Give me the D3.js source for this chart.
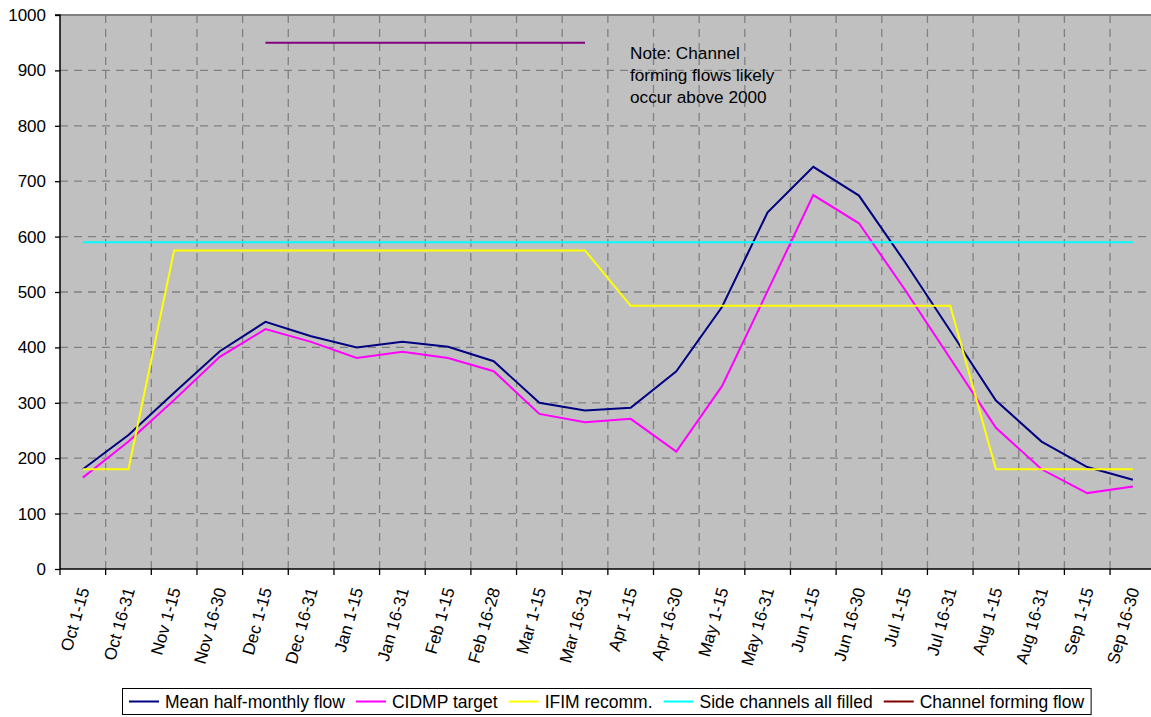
<!DOCTYPE html>
<html>
<head>
<meta charset="utf-8">
<script src="https://cdn.jsdelivr.net/npm/d3@7"></script>
<style>
  html, body { margin: 0; padding: 0; background: #ffffff; }
  svg { display: block; font-family: "Liberation Sans", Arial, sans-serif; }
</style>
</head>
<body>
<svg id="chart" width="1151" height="717"></svg>
<script>
const categories = ["Oct 1-15","Oct 16-31","Nov 1-15","Nov 16-30","Dec 1-15","Dec 16-31","Jan 1-15","Jan 16-31","Feb 1-15","Feb 16-28","Mar 1-15","Mar 16-31","Apr 1-15","Apr 16-30","May 1-15","May 16-31","Jun 1-15","Jun 16-30","Jul 1-15","Jul 16-31","Aug 1-15","Aug 16-31","Sep 1-15","Sep 16-30"];
const meanFlow = [180,242,318,393,446,420,400,410,401,375,300,286,291,357,473,644,726,674,555,430,304,230,184,161];
const cidmpTarget = [165,230,305,383,433,410,381,392,381,357,280,265,271,212,330,502,675,624,505,380,255,180,137,149];
const ifimRecomm = [180,180,575,575,575,575,575,575,575,575,575,575,475,475,475,475,475,475,475,475,180,180,180,180];
const sideChannels = [590,590,590,590,590,590,590,590,590,590,590,590,590,590,590,590,590,590,590,590,590,590,590,590];
const channelForming = [null,null,null,null,950,950,950,950,950,950,950,950,null,null,null,null,null,null,null,null,null,null,null,null];
const yTicks = [0,100,200,300,400,500,600,700,800,900,1000];
const noteLines = ["Note: Channel","forming flows likely","occur above 2000"];

const seriesList = [
  {name: "Mean half-monthly flow", values: meanFlow, color: "#000080", legendColor: "#000080"},
  {name: "CIDMP target", values: cidmpTarget, color: "#FF00FF", legendColor: "#FF00FF"},
  {name: "IFIM recomm.", values: ifimRecomm, color: "#FFFF00", legendColor: "#FFFF00"},
  {name: "Side channels all filled", values: sideChannels, color: "#00FFFF", legendColor: "#00FFFF"},
  {name: "Channel forming flow", values: channelForming, color: "#800080", legendColor: "#800000"}
];

const svg = d3.select("#chart");
const pL = 60, pR = 1155.7, pT = 15, pB = 569;

const x = d3.scaleBand().domain(categories).range([pL, pR]).paddingInner(0).paddingOuter(0);
const y = d3.scaleLinear().domain([0, 1000]).range([pB, pT]);
const cx = c => x(c) + x.bandwidth() / 2;

// plot background
svg.append("rect").attr("x", pL).attr("y", pT).attr("width", pR - pL).attr("height", pB - pT)
  .attr("fill", "#C0C0C0");

// horizontal gridlines
svg.append("g").selectAll("line").data(yTicks.filter(t => t > 0 && t < 1000)).join("line")
  .attr("x1", pL).attr("x2", pR).attr("y1", d => y(d)).attr("y2", d => y(d))
  .attr("stroke", "#808080").attr("stroke-width", 1.3).attr("stroke-dasharray", "8,6");

// vertical gridlines at category boundaries
svg.append("g").selectAll("line").data(categories.slice(1)).join("line")
  .attr("x1", d => x(d)).attr("x2", d => x(d)).attr("y1", pT).attr("y2", pB)
  .attr("stroke", "#808080").attr("stroke-width", 1.3).attr("stroke-dasharray", "8,6");

// top border
svg.append("line").attr("x1", pL).attr("x2", pR).attr("y1", pT).attr("y2", pT)
  .attr("stroke", "#808080").attr("stroke-width", 2);

// series lines
const lineGen = d3.line().defined(d => d.v != null).x(d => cx(d.c)).y(d => y(d.v));
seriesList.forEach(s => {
  svg.append("path")
    .datum(categories.map((c, i) => ({c: c, v: s.values[i]})))
    .attr("fill", "none").attr("stroke", s.color).attr("stroke-width", 2)
    .attr("stroke-linejoin", "miter")
    .attr("d", lineGen);
});

// y axis
const yAxis = d3.axisLeft(y).tickValues(yTicks).tickSize(5).tickPadding(9).tickFormat(d3.format("d"));
const gy = svg.append("g").attr("transform", `translate(${pL},0)`).call(yAxis);
gy.select(".domain").attr("stroke", "#000").attr("stroke-width", 1.5).attr("d", `M-5,${pT}H0V${pB}`);
gy.selectAll(".tick line").attr("stroke", "#000").attr("stroke-width", 1.3);
gy.selectAll(".tick text").attr("font-size", 17).attr("fill", "#000").attr("font-family", "Liberation Sans, Arial, sans-serif");

// x axis (ticks at category boundaries)
const boundaries = categories.map(c => x(c));
const gx = svg.append("g");
gx.append("line").attr("x1", pL).attr("x2", pR).attr("y1", pB).attr("y2", pB)
  .attr("stroke", "#000").attr("stroke-width", 1.5);
gx.selectAll("line.tk").data(boundaries).join("line").attr("class", "tk")
  .attr("x1", d => d).attr("x2", d => d).attr("y1", pB).attr("y2", pB + 6)
  .attr("stroke", "#000").attr("stroke-width", 1.3);
gx.selectAll("text").data(categories).join("text")
  .attr("transform", d => `translate(${cx(d) + 1},${pB + 19}) rotate(-74)`)
  .attr("text-anchor", "end").attr("dy", "0.35em")
  .attr("font-size", 17).attr("fill", "#000")
  .text(d => d);

// note
svg.append("g").selectAll("text").data(noteLines).join("text")
  .attr("x", 630).attr("y", (d, i) => 58.5 + i * 22)
  .attr("font-size", 17.2).attr("fill", "#000").text(d => d);

// legend
const lg = svg.append("g");
const lgBox = lg.append("rect").attr("y", 688.5).attr("height", 26).attr("fill", "#fff")
  .attr("stroke", "#000").attr("stroke-width", 1);
let lx = 129;
seriesList.forEach(s => {
  lg.append("line").attr("x1", lx).attr("x2", lx + 30).attr("y1", 701.5).attr("y2", 701.5)
    .attr("stroke", s.legendColor).attr("stroke-width", 2);
  const t = lg.append("text").attr("x", lx + 36).attr("y", 707.5).attr("font-size", 17.5)
    .attr("fill", "#000").text(s.name);
  const w = t.node().getComputedTextLength();
  lx = lx + 36 + w + 11;
});
lgBox.attr("x", 122.5).attr("width", lx - 11 + 7 - 122.5);
</script>
</body>
</html>
